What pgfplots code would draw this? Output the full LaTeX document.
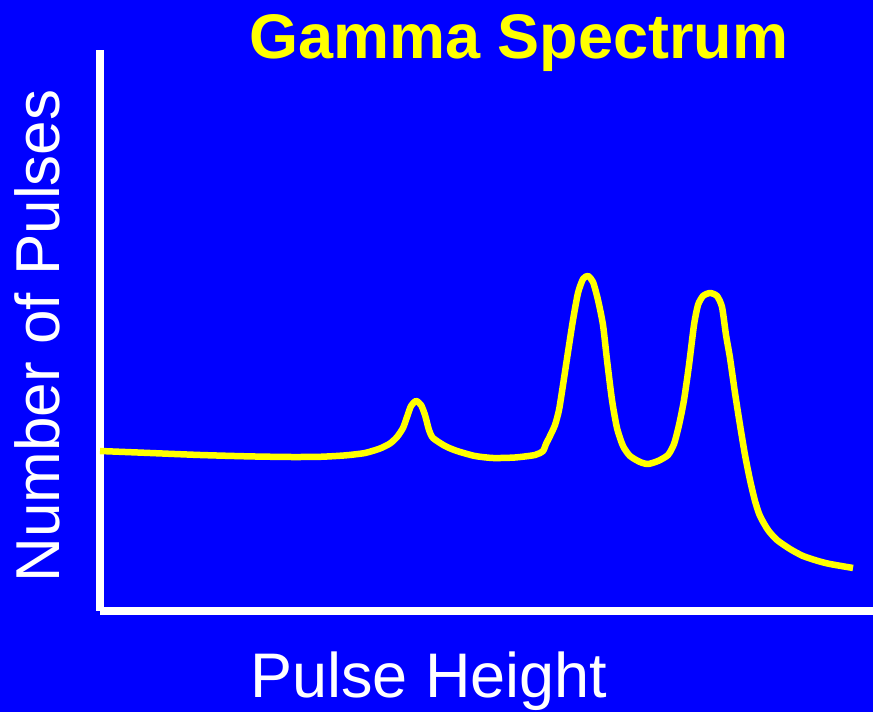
\documentclass[border=0pt]{standalone}
\usepackage{pgfplots}
\pgfplotsset{compat=1.18}
\usepackage{fontspec}
\setmainfont{Liberation Sans}
\definecolor{bgblue}{HTML}{0000FF}
\definecolor{curveyellow}{HTML}{FFFF00}
\begin{document}
\begin{tikzpicture}
\useasboundingbox (0,0) rectangle (873pt,712pt);
\fill[bgblue] (0,0) rectangle (873pt,712pt);
\begin{axis}[
  at={(100pt,101pt)}, anchor=south west,
  scale only axis, width=773pt, height=561pt,
  xmin=100, xmax=873, ymin=0, ymax=561,
  axis x line*=bottom, axis y line*=left,
  axis line style={white, line width=8pt, -},
  ticks=none, clip=false,
]
\addplot[curveyellow, line width=6.5pt, smooth, tension=0.4, line join=round] coordinates {
(100,160) (150,158) (200,156) (250,154.6) (290,154) (320,154.2) (345,155.6) (365,158) (380,162.5)
(390,167.5) (397,174) (403,183) (407,194) (411,205) (416,210) (421,206) (425,196)
(429,181) (433,173) (445,165) (457,160) (475,155) (493,153) (515,153.5) (535,156) (543,160)
(546,167) (550,175) (555,186) (559,201) (563,226) (568,259) (573,291) (578,318) (583,332)
(588,335) (593,329) (598,311) (603,286) (607,251) (612,211) (617,183) (623,165) (630,155)
(640,149) (648,147) (658,150) (668,156) (674,167) (679,186) (684,211) (689,246) (694,286)
(698,306) (703,315) (710,318) (717,315) (722,304) (726,276) (730,253) (735,218) (740,186)
(745,156) (750,131) (755,110) (760,95) (768,81) (777,71) (790,62) (803,55) (818,50)
(830,47) (853,43)
};
\end{axis}
\node[anchor=base, text=curveyellow, font=\fontsize{63}{70}\selectfont\bfseries] at (519pt,653pt) {Gamma Spectrum};
\node[anchor=base, text=white, font=\fontsize{63}{70}\selectfont] at (429pt,14pt) {Pulse Height};
\node[anchor=base, rotate=90, text=white, font=\fontsize{62}{70}\selectfont] at (59pt,376pt) {Number of Pulses};
\end{tikzpicture}
\end{document}
